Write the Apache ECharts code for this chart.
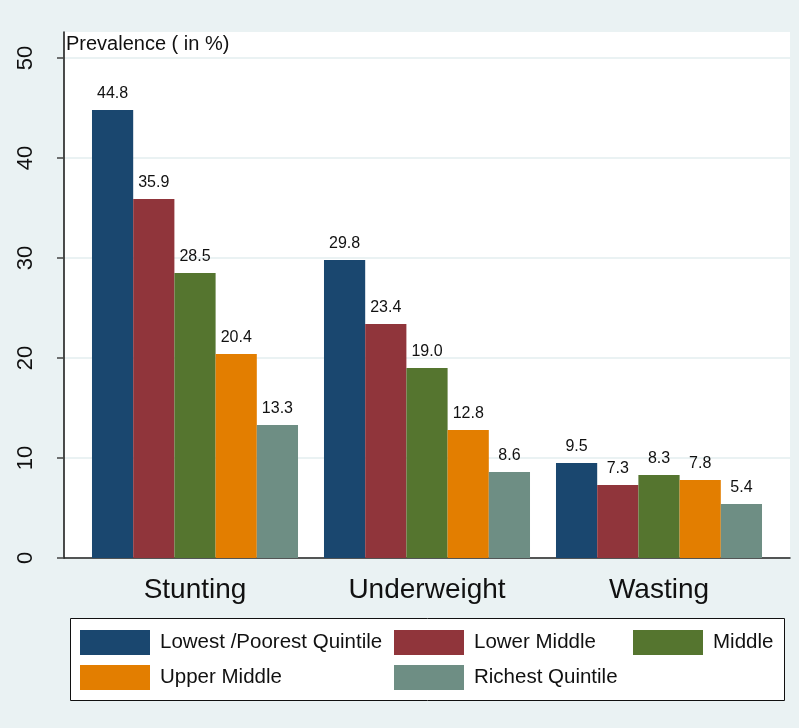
<!DOCTYPE html>
<html>
<head>
<meta charset="utf-8">
<script src="https://cdn.jsdelivr.net/npm/echarts@6/dist/echarts.min.js"></script>
<style>
html,body{margin:0;padding:0;background:#eaf2f3;}
#chart{width:799px;height:728px;}
</style>
</head>
<body>
<div id="chart"></div>
<script>
const categories = ['Stunting', 'Underweight', 'Wasting'];
const seriesNames = ['Lowest /Poorest Quintile', 'Lower Middle', 'Middle', 'Upper Middle', 'Richest Quintile'];
const lowest = [44.8, 29.8, 9.5];
const lowerMiddle = [35.9, 23.4, 7.3];
const middle = [28.5, 19.0, 8.3];
const upperMiddle = [20.4, 12.8, 7.8];
const richest = [13.3, 8.6, 5.4];
const yTicks = [0, 10, 20, 30, 40, 50];
const yTitle = 'Prevalence ( in %)';

const colors = ['#1a476f', '#90353b', '#55752f', '#e37e00', '#6e8e84'];
const values = [lowest, lowerMiddle, middle, upperMiddle, richest];
const YMAX = 52.6;
const sans = '"Liberation Sans", Arial, sans-serif';

const chart = echarts.init(document.getElementById('chart'), null, {renderer: 'canvas'});

const legendCommon = {
  orient: 'vertical',
  top: 630,
  padding: 0,
  itemWidth: 70,
  itemHeight: 25,
  itemGap: 10,
  icon: 'rect',
  textStyle: {fontFamily: sans, fontSize: 20.5, color: '#111', padding: [3, 0, 0, 5]}
};

chart.setOption({
  backgroundColor: '#eaf2f3',
  animation: false,
  color: colors,
  title: {
    text: yTitle, left: 66, top: 34, padding: 0,
    textStyle: {fontFamily: sans, fontSize: 20, fontWeight: 'normal', color: '#111'}
  },
  graphic: [{
    type: 'rect', z: -1, left: 70, top: 618,
    shape: {width: 714, height: 82},
    style: {fill: '#ffffff', stroke: '#111', lineWidth: 1}
  }],
  legend: [
    Object.assign({}, legendCommon, {left: 80, data: [seriesNames[0], seriesNames[3]]}),
    Object.assign({}, legendCommon, {left: 394, data: [seriesNames[1], seriesNames[4]]}),
    Object.assign({}, legendCommon, {left: 633, data: [seriesNames[2]]})
  ],
  grid: [
    {left: 64, right: 9, top: 32, bottom: 170, show: true, backgroundColor: '#ffffff', borderWidth: 0},
    {left: 79, right: 24, top: 32, bottom: 170}
  ],
  xAxis: [
    {type: 'value', gridIndex: 0, min: 0, max: 1,
     axisLine: {show: true, lineStyle: {color: '#222', width: 1.5}},
     axisTick: {show: false}, axisLabel: {show: false}, splitLine: {show: false}},
    {type: 'category', gridIndex: 1, data: categories,
     axisLine: {show: false}, axisTick: {show: false},
     axisLabel: {fontFamily: sans, fontSize: 28, color: '#111', margin: 18, interval: 0}}
  ],
  yAxis: [
    {type: 'value', gridIndex: 0, min: 0, max: YMAX, interval: 10,
     axisLine: {show: true, lineStyle: {color: '#111', width: 1.5}},
     axisTick: {show: true, length: 7, lineStyle: {color: '#444', width: 1.5}, customValues: yTicks},
     axisLabel: {rotate: 90, margin: 27, fontFamily: sans, fontSize: 22, color: '#111', customValues: yTicks},
     splitLine: {show: true, lineStyle: {color: '#eaf2f3', width: 2}}},
    {type: 'value', gridIndex: 1, min: 0, max: YMAX, show: false, splitLine: {show: false}}
  ],
  series: values.map((v, i) => ({
    name: seriesNames[i],
    type: 'bar',
    xAxisIndex: 1,
    yAxisIndex: 1,
    data: v,
    barGap: '0%',
    barCategoryGap: '11.2%',
    itemStyle: {color: colors[i]},
    label: {
      show: true, position: 'top', distance: 8,
      fontFamily: sans, fontSize: 16, color: '#111',
      formatter: p => p.value.toFixed(1)
    }
  }))
});
</script>
</body>
</html>
